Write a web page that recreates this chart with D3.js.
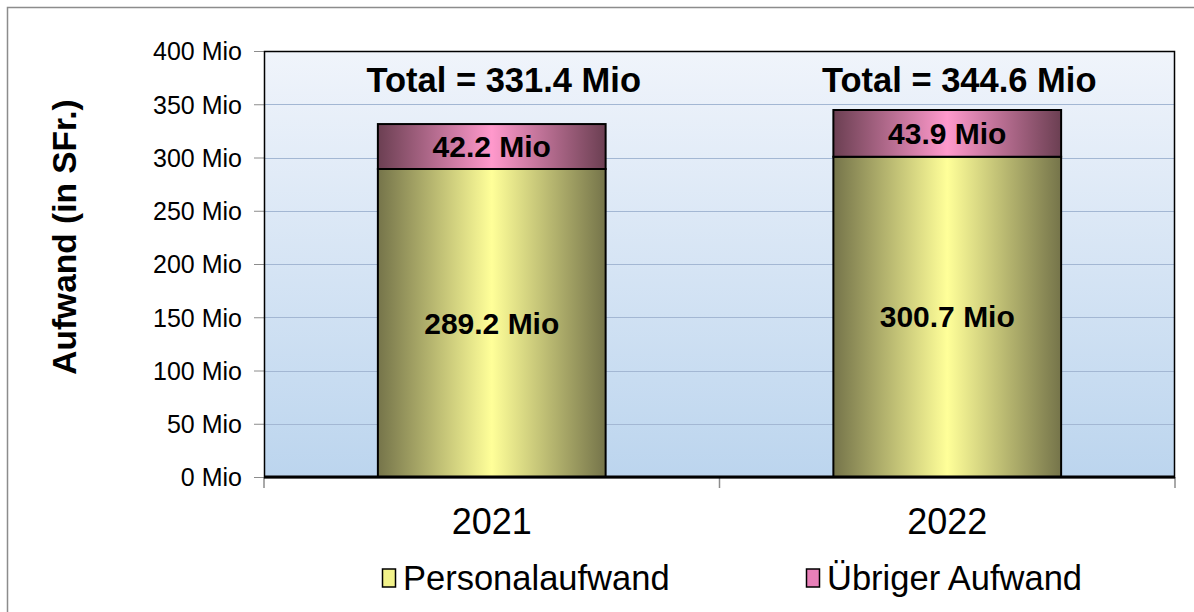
<!DOCTYPE html>
<html>
<head>
<meta charset="utf-8">
<script src="https://cdn.jsdelivr.net/npm/d3@7"></script>
<style>
  body { margin: 0; background: #fff; }
  text { font-family: "Liberation Sans", Arial, sans-serif; }
</style>
</head>
<body>
<div id="chart"></div>
<script>
// data
var years = ["2021", "2022"];
var personal = [289.2, 300.7];
var uebrig = [42.2, 43.9];
var totals = [331.4, 344.6];
var yTicks = [0, 50, 100, 150, 200, 250, 300, 350, 400];
var seriesNames = ["Personalaufwand", "Übriger Aufwand"];

var svgWidth = 1194;
var svgHeight = 612;
var margin = { top: 51, right: 19, bottom: 135, left: 264 };
var width = svgWidth - margin.left - margin.right;
var height = svgHeight - margin.top - margin.bottom;

var svg = d3.select("#chart").append("svg")
  .attr("width", svgWidth)
  .attr("height", svgHeight);

var defs = svg.append("defs");

// background gradient of plot area
var bg = defs.append("linearGradient").attr("id", "bg")
  .attr("x1", 0).attr("y1", 0).attr("x2", 0).attr("y2", 1);
bg.append("stop").attr("offset", "0%").attr("stop-color", "#f0f4fb");
bg.append("stop").attr("offset", "100%").attr("stop-color", "#bcd5ee");

function barGrad(id, edge, mid) {
  var g = defs.append("linearGradient").attr("id", id)
    .attr("x1", 0).attr("y1", 0).attr("x2", 1).attr("y2", 0);
  g.append("stop").attr("offset", "0%").attr("stop-color", edge);
  g.append("stop").attr("offset", "50%").attr("stop-color", mid);
  g.append("stop").attr("offset", "100%").attr("stop-color", edge);
}
barGrad("gYellow", "#75744a", "#ffff99");
barGrad("gPink", "#6b3f52", "#ff99cc");

// outer frame
svg.append("path")
  .attr("d", "M7.5," + svgHeight + " V7.5 H" + svgWidth)
  .attr("fill", "none")
  .attr("stroke", "#8c8c8c")
  .attr("stroke-width", 1.5);

var chartGroup = svg.append("g")
  .attr("transform", `translate(${margin.left}, ${margin.top})`);

var x = d3.scaleBand().domain(years).range([0, width]).paddingInner(0.5).paddingOuter(0.25);
var y = d3.scaleLinear().domain([0, 400]).range([height, 0]);

chartGroup.append("rect")
  .attr("width", width).attr("height", height)
  .attr("fill", "url(#bg)");

// gridlines
chartGroup.append("g")
  .selectAll("line")
  .data(yTicks.filter(d => d > 0 && d < 400))
  .enter().append("line")
  .attr("x1", 0).attr("x2", width)
  .attr("y1", d => Math.round(y(d)) + 0.5).attr("y2", d => Math.round(y(d)) + 0.5)
  .attr("stroke", "#a3b7d3").attr("stroke-width", 1.2);

// y axis
var yAxis = chartGroup.append("g")
  .call(d3.axisLeft(y).tickValues(yTicks).tickSize(10).tickPadding(12).tickFormat(d => d + " Mio"));
yAxis.select(".domain").remove();
yAxis.selectAll("line").attr("stroke", "#8c8c8c");
yAxis.selectAll("text").style("font-size", "25px").attr("fill", "#000").attr("dy", "0.35em");

// x ticks (category separators)
var sepX = [0, width / 2, width];
chartGroup.append("g").selectAll("line").data(sepX).enter().append("line")
  .attr("x1", d => d).attr("x2", d => d)
  .attr("y1", height).attr("y2", height + 11)
  .attr("stroke", "#8c8c8c").attr("stroke-width", 1.5);

// bars
var bars = chartGroup.append("g").selectAll("g").data(years).enter().append("g");
bars.append("rect")
  .attr("x", d => x(d))
  .attr("width", x.bandwidth())
  .attr("y", (d, i) => y(personal[i]))
  .attr("height", (d, i) => y(0) - y(personal[i]))
  .attr("fill", "url(#gYellow)")
  .attr("stroke", "#000").attr("stroke-width", 2);
bars.append("rect")
  .attr("x", d => x(d))
  .attr("width", x.bandwidth())
  .attr("y", (d, i) => y(personal[i] + uebrig[i]))
  .attr("height", (d, i) => y(personal[i]) - y(personal[i] + uebrig[i]))
  .attr("fill", "url(#gPink)")
  .attr("stroke", "#000").attr("stroke-width", 2);

// labels
bars.append("text")
  .attr("x", d => x(d) + x.bandwidth() / 2)
  .attr("y", (d, i) => y(personal[i] / 2))
  .attr("dy", "0.35em")
  .attr("text-anchor", "middle")
  .style("font-size", "30px").style("font-weight", "bold")
  .text((d, i) => personal[i].toFixed(1) + " Mio");
bars.append("text")
  .attr("x", d => x(d) + x.bandwidth() / 2)
  .attr("y", (d, i) => y(personal[i] + uebrig[i] / 2))
  .attr("dy", "0.35em")
  .attr("text-anchor", "middle")
  .style("font-size", "30px").style("font-weight", "bold")
  .text((d, i) => uebrig[i].toFixed(1) + " Mio");
bars.append("text")
  .attr("x", d => x(d) + x.bandwidth() / 2 + 12)
  .attr("y", 29)
  .attr("dy", "0.35em")
  .attr("text-anchor", "middle")
  .style("font-size", "34.5px").style("font-weight", "bold")
  .text((d, i) => "Total = " + totals[i].toFixed(1) + " Mio");

// plot border
chartGroup.append("rect")
  .attr("x", 0.5).attr("y", 0.5).attr("width", width - 1).attr("height", height)
  .attr("fill", "none").attr("stroke", "#000").attr("stroke-width", 1.5);
chartGroup.append("line")
  .attr("x1", 0).attr("x2", width).attr("y1", height).attr("y2", height)
  .attr("stroke", "#000").attr("stroke-width", 3);

// x labels
chartGroup.append("g").selectAll("text").data(years).enter().append("text")
  .attr("x", d => x(d) + x.bandwidth() / 2)
  .attr("y", height + 44)
  .attr("dy", "0.35em")
  .attr("text-anchor", "middle")
  .style("font-size", "36px")
  .text(d => d);

// y title
svg.append("text")
  .attr("transform", "translate(64, 237) rotate(-90)")
  .attr("dy", "0.35em")
  .attr("text-anchor", "middle")
  .style("font-size", "33.5px").style("font-weight", "bold")
  .text("Aufwand (in SFr.)");

// legend
var legendX = [382, 806];
var legendFill = ["#f2f28a", "#e87fb8"];
var legend = svg.append("g").selectAll("g").data(seriesNames).enter().append("g")
  .attr("transform", (d, i) => `translate(${legendX[i]}, 578)`);
legend.append("rect")
  .attr("x", 0.5).attr("y", -9).attr("width", 13).attr("height", 18)
  .attr("fill", (d, i) => legendFill[i])
  .attr("stroke", "#000").attr("stroke-width", 1.5);
legend.append("text")
  .attr("x", 21).attr("dy", "0.35em")
  .style("font-size", "34.5px")
  .text(d => d);
</script>
</body>
</html>
